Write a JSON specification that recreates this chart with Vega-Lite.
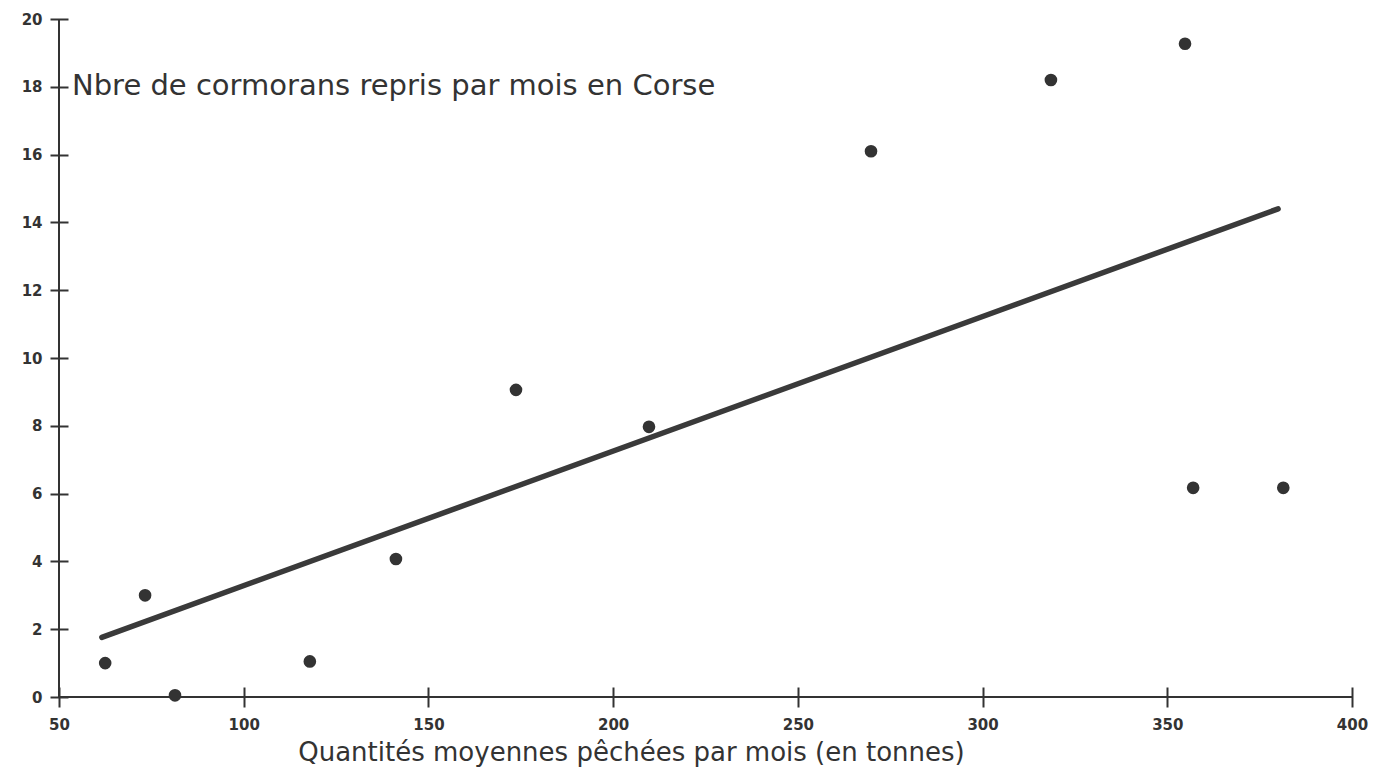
{
  "$schema": "https://vega.github.io/schema/vega-lite/v6.json",
  "width": 1293,
  "height": 678,
  "autosize": {"type": "none"},
  "padding": {"left": 59, "top": 19, "right": 34, "bottom": 81},
  "background": "#ffffff",
  "title": {
    "text": "Nbre de cormorans repris par mois en Corse",
    "anchor": "start",
    "frame": "group",
    "orient": "top",
    "offset": 0,
    "dx": 13,
    "dy": 89,
    "font": "DejaVu Sans",
    "fontSize": 29,
    "fontWeight": "normal",
    "color": "#333333"
  },
  "config": {"view": {"stroke": null}},
  "layer": [
    {
      "data": {"values": [{"axe": "y"}]},
      "mark": {"type": "rule", "color": "#333333", "strokeWidth": 2},
      "encoding": {
        "x": {"datum": 50, "type": "quantitative"},
        "y": {"datum": 0, "type": "quantitative"},
        "y2": {"datum": 20}
      }
    },
    {
      "data": {"values": [{"axe": "x"}]},
      "mark": {"type": "rule", "color": "#333333", "strokeWidth": 2},
      "encoding": {
        "x": {"datum": 50, "type": "quantitative"},
        "x2": {"datum": 400},
        "y": {"datum": 0, "type": "quantitative"}
      }
    },
    {
      "data": {
        "values": [
          {"quantite": 62.5, "cormorans": 1.0},
          {"quantite": 73.3, "cormorans": 3.0},
          {"quantite": 81.4, "cormorans": 0.05},
          {"quantite": 117.9, "cormorans": 1.05},
          {"quantite": 141.2, "cormorans": 4.07},
          {"quantite": 173.7, "cormorans": 9.06},
          {"quantite": 209.7, "cormorans": 7.97},
          {"quantite": 269.8, "cormorans": 16.1},
          {"quantite": 318.5, "cormorans": 18.2},
          {"quantite": 354.8, "cormorans": 19.27},
          {"quantite": 357.0, "cormorans": 6.17},
          {"quantite": 381.4, "cormorans": 6.17}
        ]
      },
      "mark": {"type": "circle", "size": 160, "color": "#333333", "opacity": 1},
      "encoding": {
        "x": {
          "field": "quantite",
          "type": "quantitative",
          "scale": {"domain": [50, 400], "nice": false, "zero": false},
          "axis": {
            "orient": "bottom",
            "offset": -10,
            "values": [50, 100, 150, 200, 250, 300, 350, 400],
            "grid": false,
            "domain": false,
            "ticks": true,
            "tickSize": 20,
            "tickWidth": 2,
            "tickColor": "#333333",
            "labelFont": "DejaVu Sans",
            "labelFontWeight": "bold",
            "labelFontSize": 15,
            "labelColor": "#333333",
            "labelPadding": 10,
            "labelFlush": false,
            "labelOverlap": false,
            "title": "Quantités moyennes pêchées par mois (en tonnes)",
            "titleFont": "DejaVu Sans",
            "titleFontSize": 26,
            "titleFontWeight": "normal",
            "titleColor": "#333333",
            "titleAnchor": null,
            "titleAlign": "center",
            "titleBaseline": "alphabetic",
            "titleX": 572,
            "titleY": 73
          }
        },
        "y": {
          "field": "cormorans",
          "type": "quantitative",
          "scale": {"domain": [0, 20], "nice": false, "zero": false},
          "axis": {
            "orient": "left",
            "offset": -9,
            "values": [0, 2, 4, 6, 8, 10, 12, 14, 16, 18, 20],
            "grid": false,
            "domain": false,
            "ticks": true,
            "tickSize": 18,
            "tickWidth": 2,
            "tickColor": "#333333",
            "labelFont": "DejaVu Sans",
            "labelFontWeight": "bold",
            "labelFontSize": 15,
            "labelColor": "#333333",
            "labelPadding": 8,
            "labelFlush": false,
            "labelOverlap": false,
            "title": null
          }
        }
      }
    },
    {
      "data": {
        "values": [
          {"quantite": 61.6, "cormorans": 1.76},
          {"quantite": 380.0, "cormorans": 14.4}
        ]
      },
      "mark": {"type": "line", "strokeWidth": 5.5, "color": "#3a3a3a", "strokeCap": "round"},
      "encoding": {
        "x": {"field": "quantite", "type": "quantitative"},
        "y": {"field": "cormorans", "type": "quantitative"}
      }
    }
  ]
}
